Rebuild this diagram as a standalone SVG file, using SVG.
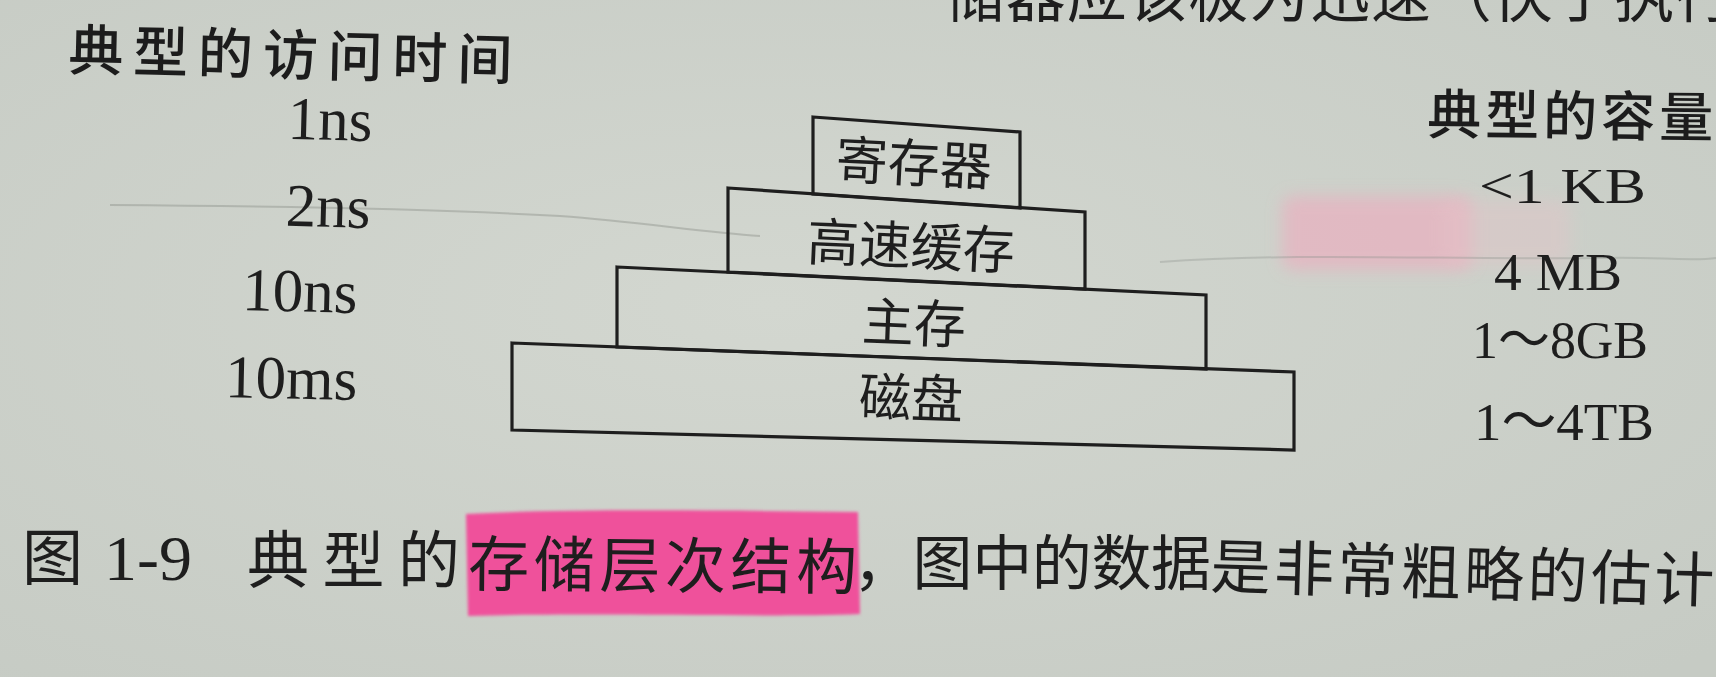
<svg xmlns="http://www.w3.org/2000/svg" width="1716" height="677" viewBox="0 0 1716 677">
  <defs>
    <style>
      .box { fill: none; stroke: #1e1e1e; stroke-width: 3.2; stroke-linejoin: miter; }
      .cjk { font-family: "Noto Sans CJK SC", "Noto Sans CJK TC", sans-serif; fill: #1e1e1e; }
      .head { font-family: "Noto Sans CJK SC", "Noto Sans CJK TC", sans-serif; font-weight: 500; fill: #1c1c1c; }
      .num { font-family: "Liberation Serif", "Noto Sans CJK SC", serif; fill: #1e1e1e; }
    </style>
    <radialGradient id="paper" cx="0.45" cy="0.45" r="0.75">
      <stop offset="0" stop-color="#d3d7d0"/>
      <stop offset="1" stop-color="#c6cbc4"/>
    </radialGradient>
    <filter id="soft" x="-20%" y="-40%" width="140%" height="180%">
      <feGaussianBlur stdDeviation="8"/>
    </filter>
    <filter id="edge" x="-5%" y="-10%" width="110%" height="120%">
      <feGaussianBlur stdDeviation="1.5"/>
    </filter>
  </defs>

  <!-- paper background -->
  <rect x="0" y="0" width="1716" height="677" fill="url(#paper)"/>

  <!-- faint bleed-through pink and pencil marks -->
  <rect x="1282" y="196" width="190" height="74" rx="10" fill="#eab0c0" opacity="0.7" filter="url(#soft)"/>
  <rect x="1440" y="200" width="130" height="66" rx="10" fill="#e6c2c8" opacity="0.4" filter="url(#soft)"/>
  <path d="M110,205 C260,206 420,208 560,216 C640,222 700,232 760,236" fill="none" stroke="#8d938b" stroke-width="2" opacity="0.45"/>
  <path d="M1160,262 C1300,252 1450,260 1600,258 C1650,256 1690,262 1716,258" fill="none" stroke="#8d938b" stroke-width="2" opacity="0.35"/>

  <!-- cut-off body text at top -->
  <text class="cjk" x="945" y="17" font-size="60" textLength="790" lengthAdjust="spacing">储器应该极为迅速（快于执行</text>

  <!-- headings -->
  <g id="access-time-heading">
    <text class="head" x="68" y="70" font-size="55" textLength="444" lengthAdjust="spacing" transform="rotate(1.3 68 70)">典型的访问时间</text>
  </g>
  <g id="capacity-heading">
    <text class="head" x="1427" y="134" font-size="54" textLength="286" lengthAdjust="spacing" transform="rotate(0.6 1427 134)">典型的容量</text>
  </g>

  <!-- access times -->
  <g id="access-times">
    <text class="num" x="372" y="141" font-size="61" text-anchor="end" transform="rotate(1.5 372 141)">1ns</text>
    <text class="num" x="370" y="228" font-size="61" text-anchor="end" transform="rotate(1.5 370 228)">2ns</text>
    <text class="num" x="357" y="313" font-size="61" text-anchor="end" transform="rotate(1.5 357 313)">10ns</text>
    <text class="num" x="357" y="400" font-size="61" text-anchor="end" transform="rotate(1.2 357 400)">10ms</text>
  </g>

  <!-- capacities -->
  <g id="capacities">
    <text class="num" x="1479" y="203" font-size="50" textLength="167" lengthAdjust="spacingAndGlyphs">&lt;1 KB</text>
    <text class="num" x="1494" y="290" font-size="52" textLength="128" lengthAdjust="spacingAndGlyphs">4 MB</text>
    <text class="num" x="1472" y="358" font-size="52" textLength="176" lengthAdjust="spacingAndGlyphs">1～8GB</text>
    <text class="num" x="1474" y="440" font-size="53" textLength="180" lengthAdjust="spacingAndGlyphs">1～4TB</text>
  </g>

  <!-- pyramid levels -->
  <g id="disk">
    <polygon class="box" points="512,343 1294,372 1294,450 512,430"/>
    <text class="cjk" x="911" y="417" font-size="52" text-anchor="middle" transform="rotate(1.8 911 400)">磁盘</text>
  </g>
  <g id="main-memory">
    <polygon class="box" points="617,267 1206,295 1206,369 617,347"/>
    <text class="cjk" x="914" y="342" font-size="52" text-anchor="middle" transform="rotate(2.2 914 325)">主存</text>
  </g>
  <g id="cache">
    <polygon class="box" points="728,188 1085,212 1085,289 728,272"/>
    <text class="cjk" x="911" y="265" font-size="52" text-anchor="middle" transform="rotate(2.6 911 245)">高速缓存</text>
  </g>
  <g id="registers">
    <polygon class="box" points="813,117 1020,132 1020,208 813,194"/>
    <text class="cjk" x="914" y="182" font-size="52" text-anchor="middle" transform="rotate(2.8 914 162)">寄存器</text>
  </g>

  <g id="connectors"/>

  <!-- caption -->
  <g id="caption">
    <path d="M466,514 C560,509 700,510 858,512 L860,614 C760,618 600,612 468,616 Z" fill="#ef519b" filter="url(#edge)"/>
    <text class="cjk" x="22" y="580" font-size="61">图</text>
    <text class="num" x="104" y="580" font-size="63" textLength="88" lengthAdjust="spacingAndGlyphs">1-9</text>
    <text class="cjk" x="247" y="583" font-size="62" textLength="213" lengthAdjust="spacing">典型的</text>
    <text class="cjk" x="468" y="586" font-size="61" textLength="389" lengthAdjust="spacing" transform="rotate(0.5 468 586)">存储层次结构</text>
    <text class="cjk" x="853" y="585" font-size="60" textLength="358" lengthAdjust="spacing">，图中的数据</text>
    <text class="cjk" x="1210" y="588" font-size="60" textLength="504" lengthAdjust="spacing" transform="rotate(1.6 1210 588)">是非常粗略的估计</text>
  </g>
</svg>
